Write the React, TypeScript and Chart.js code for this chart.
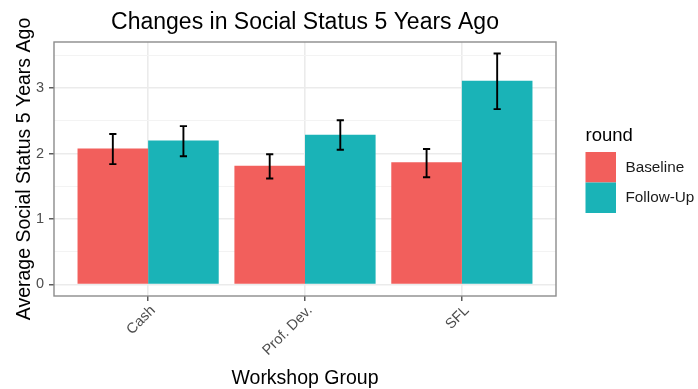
import React, { useEffect, useRef } from "react";
import { Chart, registerables } from "chart.js";

Chart.register(...registerables);

// Group labels and the per-round means with their error bar bounds
const categories = ["Cash", "Prof. Dev.", "SFL"];
const roundNames = ["Baseline", "Follow-Up"];
const baselineMean = [2.08, 1.815, 1.87];
const baselineLow = [1.84, 1.62, 1.64];
const baselineHigh = [2.3, 1.99, 2.07];
const followUpMean = [2.2, 2.29, 3.115];
const followUpLow = [1.96, 2.06, 2.68];
const followUpHigh = [2.42, 2.51, 3.53];
const yMajorTicks = [0, 1, 2, 3];
const yMinorTicks = [0.5, 1.5, 2.5, 3.5];

const RED = "#F25F5C";
const TEAL = "#1AB3B7";
const FONT = "'Liberation Sans', Arial, Helvetica, sans-serif";

const lows = [baselineLow, followUpLow];
const highs = [baselineHigh, followUpHigh];

// ggplot-like expansion of the value axis: 5% of the data range on each side
const dataMax = Math.max(...baselineHigh, ...followUpHigh);
const yMin = -0.05 * dataMax;
const yMax = dataMax * 1.05;

const errorBarPlugin = {
  id: "errorBars",
  afterDatasetsDraw(chart: any) {
    const ctx = chart.ctx;
    const yScale = chart.scales.y;
    ctx.save();
    ctx.strokeStyle = "#000";
    ctx.lineWidth = 1.9;
    chart.data.datasets.forEach((_: any, di: number) => {
      const meta = chart.getDatasetMeta(di);
      meta.data.forEach((bar: any, i: number) => {
        const x = bar.x;
        const yLo = yScale.getPixelForValue(lows[di][i]);
        const yHi = yScale.getPixelForValue(highs[di][i]);
        const cap = 3.6;
        ctx.beginPath();
        ctx.moveTo(x, yLo);
        ctx.lineTo(x, yHi);
        ctx.moveTo(x - cap, yLo);
        ctx.lineTo(x + cap, yLo);
        ctx.moveTo(x - cap, yHi);
        ctx.lineTo(x + cap, yHi);
        ctx.stroke();
      });
    });
    ctx.restore();
  },
};

const decorationsPlugin = {
  id: "decorations",
  afterDraw(chart: any) {
    const ctx = chart.ctx;
    const area = chart.chartArea;
    const cx = (area.left + area.right) / 2;
    const cy = (area.top + area.bottom) / 2;
    ctx.save();

    // panel border
    ctx.strokeStyle = "#8c8c8c";
    ctx.lineWidth = 1.4;
    ctx.strokeRect(area.left, area.top, area.right - area.left, area.bottom - area.top);

    // plot title
    ctx.fillStyle = "#000";
    ctx.textAlign = "center";
    ctx.textBaseline = "alphabetic";
    ctx.font = `23px ${FONT}`;
    ctx.fillText("Changes in Social Status 5 Years Ago", cx, 28.5);

    // x axis title
    ctx.font = `19.5px ${FONT}`;
    ctx.fillText("Workshop Group", cx, 384);

    // y axis title
    ctx.save();
    ctx.translate(29.5, cy);
    ctx.rotate(-Math.PI / 2);
    ctx.fillText("Average Social Status 5 Years Ago", 0, 0);
    ctx.restore();

    // legend
    const keyX = 585.5;
    const keyTop = 152;
    const keySize = 30.5;
    ctx.textAlign = "left";
    ctx.font = `18.5px ${FONT}`;
    ctx.fillText("round", keyX, 141);
    ctx.font = `15.3px ${FONT}`;
    ctx.textBaseline = "middle";
    [RED, TEAL].forEach((c, i) => {
      const top = keyTop + i * keySize;
      ctx.fillStyle = c;
      ctx.fillRect(keyX, top, keySize, keySize);
      ctx.fillStyle = "#1a1a1a";
      ctx.fillText(roundNames[i], keyX + keySize + 9.5, top + keySize / 2 + 0.5);
    });
    ctx.restore();
  },
};

export default function App() {
  const canvasRef = useRef<HTMLCanvasElement | null>(null);

  useEffect(() => {
    if (!canvasRef.current) return;
    const chart = new Chart(canvasRef.current, {
      type: "bar",
      data: {
        datasets: [
          {
            label: roundNames[0],
            data: baselineMean.map((v, i) => ({ x: i + 1, y: v })),
            backgroundColor: RED,
            borderWidth: 0,
          },
          {
            label: roundNames[1],
            data: followUpMean.map((v, i) => ({ x: i + 1, y: v })),
            backgroundColor: TEAL,
            borderWidth: 0,
          },
        ],
      },
      options: {
        responsive: false,
        animation: false,
        devicePixelRatio: 1,
        categoryPercentage: 0.9,
        barPercentage: 1,
        layout: { padding: { top: 42, right: 142, left: 0, bottom: 0 } },
        plugins: {
          legend: { display: false },
          title: { display: false },
          tooltip: { enabled: false },
        },
        scales: {
          x: {
            type: "linear",
            min: 0.4,
            max: 3.6,
            offset: false,
            afterBuildTicks: (scale: any) => {
              scale.ticks = categories.map((_, i) => ({ value: i + 1 }));
            },
            afterFit: (scale: any) => {
              scale.height = 93;
            },
            ticks: {
              callback: (v: any) => categories[Math.round(Number(v)) - 1] ?? "",
              minRotation: 45,
              maxRotation: 45,
              autoSkip: false,
              padding: 1,
              labelOffset: 5,
              color: "#4d4d4d",
              font: { family: FONT, size: 14.5 },
            },
            grid: {
              offset: false,
              color: "#ebebeb",
              lineWidth: 1.6,
              drawTicks: true,
              tickLength: 5,
              tickColor: "#333",
              tickWidth: 1.2,
            },
            border: { display: false },
          },
          y: {
            type: "linear",
            min: yMin,
            max: yMax,
            afterBuildTicks: (scale: any) => {
              scale.ticks = [...yMajorTicks, ...yMinorTicks]
                .sort((a, b) => a - b)
                .map((v) => ({ value: v }));
            },
            afterFit: (scale: any) => {
              scale.width = 54;
            },
            ticks: {
              callback: (v: any) => (yMajorTicks.includes(Number(v)) ? String(v) : ""),
              padding: 5,
              color: "#4d4d4d",
              font: { family: FONT, size: 14.5 },
            },
            grid: {
              color: (c: any) => (yMajorTicks.includes(c.tick?.value) ? "#ebebeb" : "#f3f3f3"),
              lineWidth: (c: any) => (yMajorTicks.includes(c.tick?.value) ? 1.6 : 1),
              drawTicks: true,
              tickLength: 5,
              tickColor: (c: any) =>
                yMajorTicks.includes(c.tick?.value) ? "#333" : "rgba(0,0,0,0)",
              tickWidth: 1.2,
            },
            border: { display: false },
          },
        },
      },
      plugins: [errorBarPlugin, decorationsPlugin],
    } as any);
    return () => chart.destroy();
  }, []);

  return (
    <div
      style={{
        position: "fixed",
        left: 0,
        top: 0,
        width: 698,
        height: 389,
        background: "#fff",
      }}
    >
      <canvas ref={canvasRef} width={698} height={389} />
    </div>
  );
}
